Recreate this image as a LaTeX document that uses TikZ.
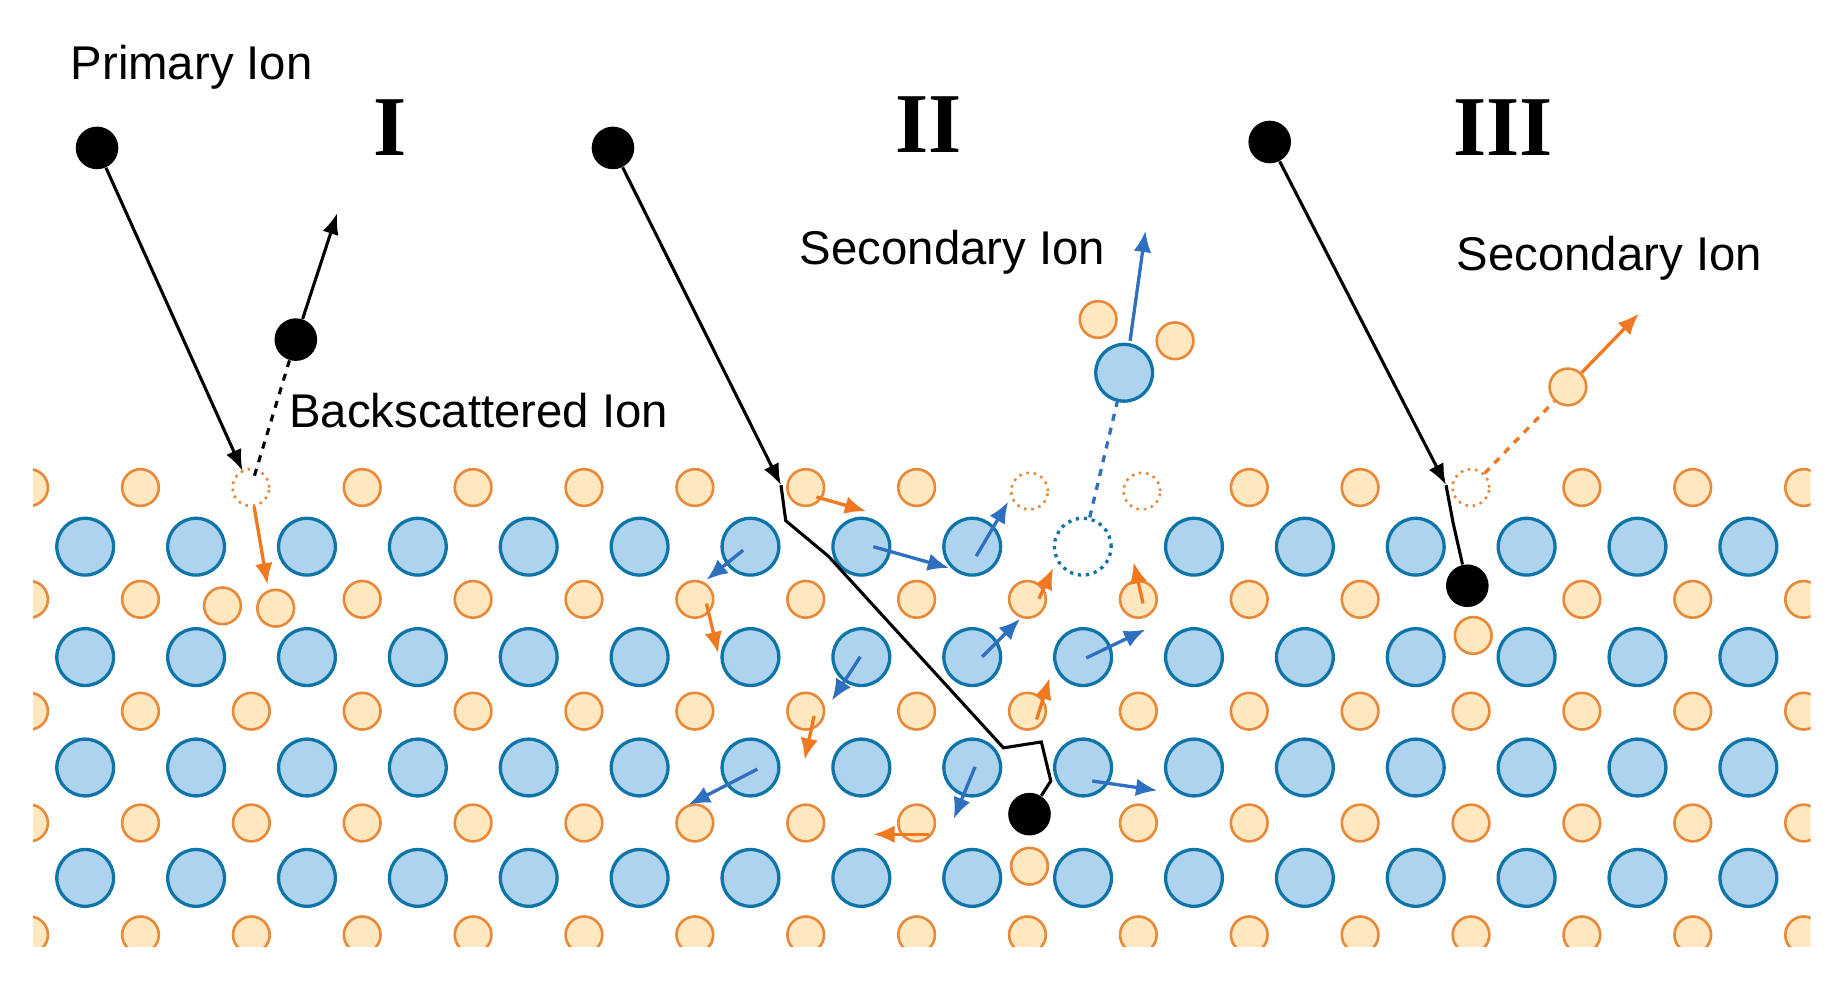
\documentclass[tikz,border=0pt]{standalone}
\usepackage{fontspec}
\setmainfont{Liberation Sans}
\newfontfamily\numfont{Liberation Serif}
\usetikzlibrary{arrows.meta}
\definecolor{bfill}{HTML}{AED3EE}
\definecolor{bdraw}{HTML}{0F75A8}
\definecolor{ofill}{HTML}{FFE8BF}
\definecolor{odraw}{HTML}{E8893A}
\definecolor{barr}{HTML}{2F6FC0}
\definecolor{oarr}{HTML}{F07820}
\begin{document}
\begin{tikzpicture}[x=0.5pt,y=-0.5pt,
 blue/.style={circle,draw=bdraw,fill=bfill,line width=1.4pt,minimum size=24pt,inner sep=0pt},
 orange/.style={circle,draw=odraw,fill=ofill,line width=1.1pt,minimum size=15.5pt,inner sep=0pt},
 ovac/.style={circle,draw=odraw,dotted,line width=1.1pt,minimum size=15.5pt,inner sep=0pt},
 bvac/.style={circle,draw=bdraw,dotted,line width=1.4pt,minimum size=24pt,inner sep=0pt},
 ion/.style={circle,fill=black,minimum size=18pt,inner sep=0pt},
 lbl/.style={font=\fontsize{20}{24}\selectfont,inner sep=0pt},
 num/.style={font=\numfont\bfseries\fontsize{36}{40}\selectfont,inner sep=0pt},
 track/.style={line width=1.3pt},
 tr/.style={track,-{Latex[length=9pt,width=7pt]}},
 ba/.style={draw=barr,line width=1.4pt,-{Latex[length=9pt,width=7.5pt]}},
 oa/.style={draw=oarr,line width=1.4pt,-{Latex[length=9pt,width=7.5pt]}}]
\useasboundingbox (0,0) rectangle (1560,834);
\begin{scope}
\clip (28,395) rectangle (1530,800);
\foreach \j in {0,...,4}{\foreach \k in {0,...,16}{
  \pgfmathtruncatemacro{\skip}{(\j==0 && (\k==2 || \k==9 || \k==10 || \k==13)) || (\j==1 && (\k==2 || \k==13)) || (\j==3 && \k==9)}
  \ifnum\skip=0 \node[orange] (o-\j-\k) at ({25+93.7*\k},{412+94.5*\j}) {};\fi}}
\foreach \j in {0,...,3}{\foreach \k in {0,...,15}{
  \pgfmathtruncatemacro{\skip}{(\j==0 && \k==9)}
  \ifnum\skip=0 \node[blue] (b-\j-\k) at ({72+93.7*\k},{462+93.3*\j}) {};\fi}}
\end{scope}
% region I
\node[ovac] (v1) at (212,412) {};
\node[orange] (d1) at (188,512) {};
\node[orange] (d2) at (233,514) {};
\node[ion] (p1) at (82,125) {};
\node[ion] (bs) at (250,287) {};
\coordinate (t1) at (205,398);
\coordinate (bsend) at (285,180);
\draw[tr] (p1) -- (t1);
\draw[track,dashed] (215,402) -- (bs);
\draw[tr] (bs) -- (bsend);
\draw[oa] (v1) -- (226,494);
\node[lbl,anchor=west] (lbs) at (244,347) {Backscattered Ion};
\node[lbl] (lpi) at (162,57) {Primary Ion};
\node[num] (n1) at (330,108) {I};
% region II
\node[ion] (p2) at (518,125) {};
\node[ovac] (v2) at (870,415) {};
\node[ovac] (v3) at (965,415) {};
\node[bvac] (v4) at (915,462) {};
\node[orange] (s1) at (928,270) {};
\node[orange] (s2) at (993,288) {};
\node[blue] (s0) at (950,315) {};
\node[orange] (d3) at (870,732) {};
\node[ion] (e2) at (870,688) {};
\coordinate (t2) at (660,410);
\draw[tr] (p2) -- (t2);
\draw[track] (t2) -- (664,440) -- (700,470) -- (848,632) -- (880,627) -- (888,660) -- (e2);
\draw[draw=barr,line width=1.4pt,dashed] (v4) -- (s0);
\draw[ba] (955,288) -- (968,195);
\draw[oa] (690,420) -- (732,432);
\draw[ba] (825,470) -- (852,424);
\draw[ba] (738,462) -- (802,480);
\draw[ba] (628,465) -- (597,490);
\draw[oa] (597,510) -- (607,552);
\draw[ba] (830,555) -- (862,523);
\draw[oa] (878,506) -- (890,480);
\draw[oa] (966,510) -- (958,475);
\draw[ba] (918,556) -- (968,532);
\draw[ba] (727,555) -- (703,592);
\draw[oa] (688,605) -- (680,642);
\draw[oa] (876,608) -- (887,573);
\draw[ba] (640,650) -- (582,680);
\draw[ba] (824,648) -- (806,692);
\draw[ba] (923,660) -- (978,668);
\draw[oa] (785,705) -- (738,705);
\node[lbl] (lsi1) at (805,213) {Secondary Ion};
\node[num] (n2) at (785,105) {II};
% region III
\node[ion] (p3) at (1073,120) {};
\node[ovac] (v5) at (1243,412) {};
\node[orange] (d4) at (1245,537) {};
\node[ion] (e3) at (1240,495) {};
\node[orange] (s3) at (1325,327) {};
\coordinate (t3) at (1222,410);
\coordinate (s3end) at (1385,265);
\draw[tr] (p3) -- (t3);
\draw[track] (t3) -- (1228,442) -- (e3);
\draw[draw=oarr,line width=1.4pt,dashed] (v5) -- (s3);
\draw[oa] (s3) -- (s3end);
\node[lbl] (lsi2) at (1360,218) {Secondary Ion};
\node[num] (n3) at (1270,108) {III};
\end{tikzpicture}
\end{document}
